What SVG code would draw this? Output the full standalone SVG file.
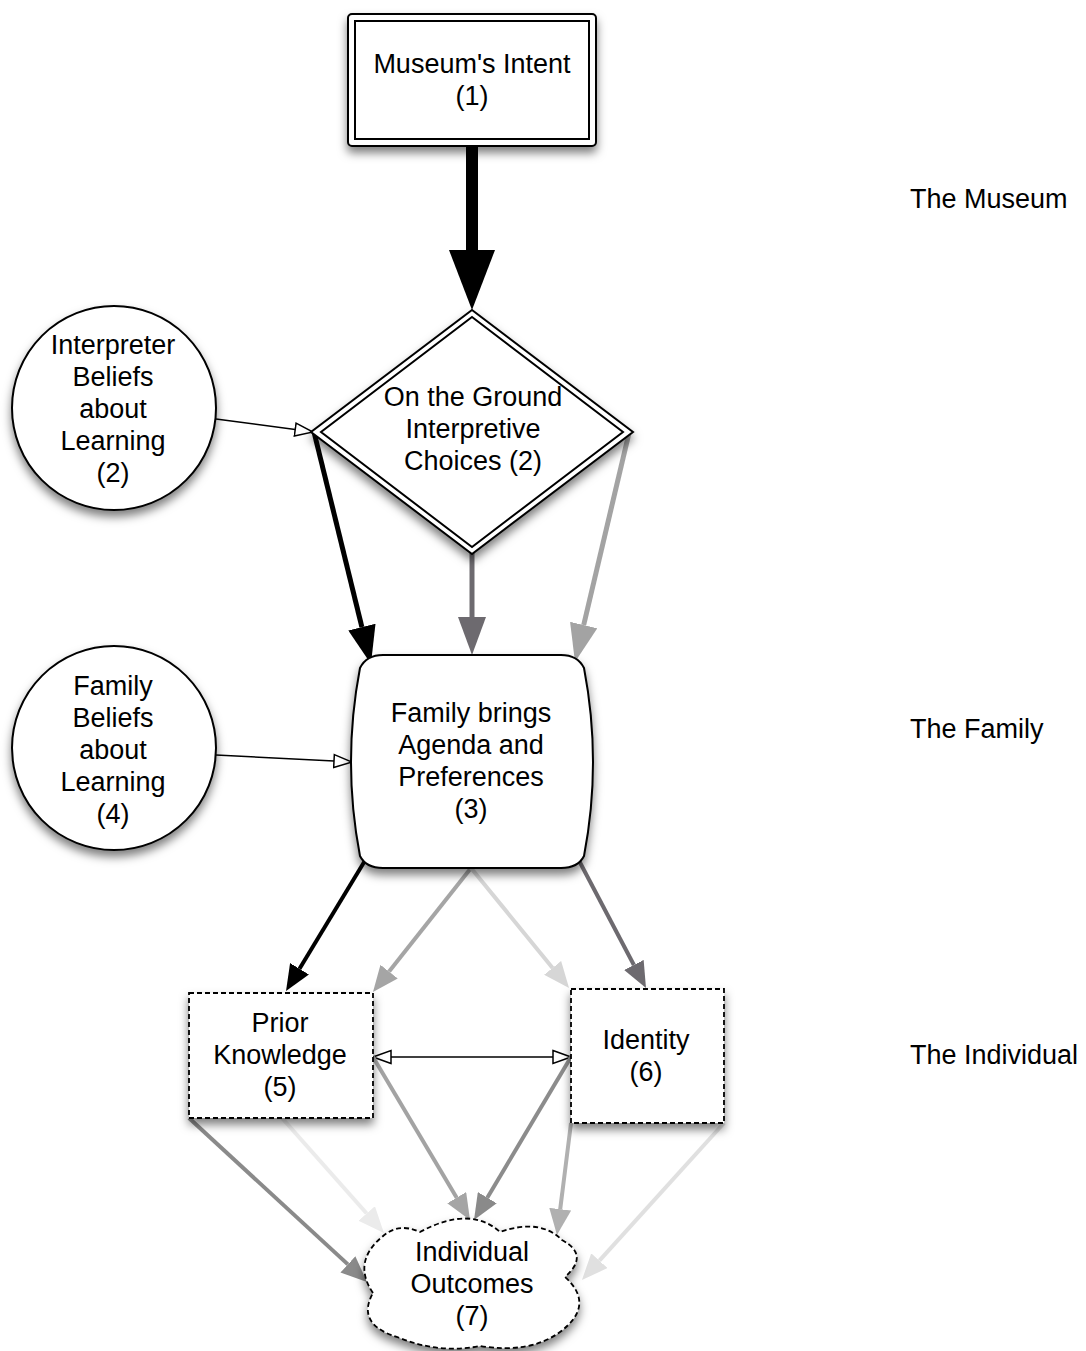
<svg xmlns="http://www.w3.org/2000/svg" width="1086" height="1351" viewBox="0 0 1086 1351">
<style>
text{font-family:"Liberation Sans",Arial,sans-serif;font-size:27px;fill:#000;text-anchor:middle}
.lab{text-anchor:start}
.shape{fill:#fff;stroke:#000;stroke-width:2}
.dash{fill:#fff;stroke:#000;stroke-width:1.8;stroke-dasharray:5 3}
.c{fill:none;stroke-linecap:butt}
</style>
<defs>
<filter id="sh" x="-20%" y="-20%" width="140%" height="150%">
<feDropShadow dx="0" dy="6" stdDeviation="5" flood-color="#000" flood-opacity="0.5"/>
</filter>
<marker id="hXL" markerUnits="userSpaceOnUse" markerWidth="60" markerHeight="46" refX="0" refY="23" orient="auto"><path d="M0,0 L60,23 L0,46 z" fill="#000"/></marker>
<marker id="bK" markerUnits="userSpaceOnUse" markerWidth="38" markerHeight="28" refX="0" refY="14" orient="auto"><path d="M0,0 L38,14 L0,28 z" fill="#000"/></marker>
<marker id="bD" markerUnits="userSpaceOnUse" markerWidth="38" markerHeight="28" refX="0" refY="14" orient="auto"><path d="M0,0 L38,14 L0,28 z" fill="#6d6a6f"/></marker>
<marker id="bG" markerUnits="userSpaceOnUse" markerWidth="38" markerHeight="28" refX="0" refY="14" orient="auto"><path d="M0,0 L38,14 L0,28 z" fill="#a3a3a3"/></marker>
<marker id="sK" markerUnits="userSpaceOnUse" markerWidth="26" markerHeight="22" refX="0" refY="11" orient="auto"><path d="M0,0 L26,11 L0,22 z" fill="#000"/></marker>
<marker id="sD" markerUnits="userSpaceOnUse" markerWidth="26" markerHeight="22" refX="0" refY="11" orient="auto"><path d="M0,0 L26,11 L0,22 z" fill="#6d6a6f"/></marker>
<marker id="sG" markerUnits="userSpaceOnUse" markerWidth="26" markerHeight="22" refX="0" refY="11" orient="auto"><path d="M0,0 L26,11 L0,22 z" fill="#a5a5a5"/></marker>
<marker id="sL" markerUnits="userSpaceOnUse" markerWidth="26" markerHeight="22" refX="0" refY="11" orient="auto"><path d="M0,0 L26,11 L0,22 z" fill="#d6d6d6"/></marker>
<marker id="sV" markerUnits="userSpaceOnUse" markerWidth="26" markerHeight="22" refX="0" refY="11" orient="auto"><path d="M0,0 L26,11 L0,22 z" fill="#ebebeb"/></marker>
<marker id="sM" markerUnits="userSpaceOnUse" markerWidth="26" markerHeight="22" refX="0" refY="11" orient="auto"><path d="M0,0 L26,11 L0,22 z" fill="#8a8a8a"/></marker>
<marker id="sB" markerUnits="userSpaceOnUse" markerWidth="26" markerHeight="22" refX="0" refY="11" orient="auto"><path d="M0,0 L26,11 L0,22 z" fill="#b0b0b0"/></marker>
<marker id="sE" markerUnits="userSpaceOnUse" markerWidth="26" markerHeight="22" refX="0" refY="11" orient="auto"><path d="M0,0 L26,11 L0,22 z" fill="#e0e0e0"/></marker>
<marker id="op" markerUnits="userSpaceOnUse" markerWidth="20" markerHeight="16" refX="1" refY="8" orient="auto-start-reverse"><path d="M1,1.5 L19,8 L1,14.5 z" fill="#fff" stroke="#000" stroke-width="1.5"/></marker>
</defs>

<g id="connectors">
<line class="c" x1="472" y1="146" x2="472" y2="250" stroke="#000" stroke-width="12" stroke-linecap="round" marker-end="url(#hXL)"/>
<line class="c" x1="314" y1="432" x2="361.9" y2="627.1" stroke="#000" stroke-width="5" marker-end="url(#bK)"/>
<line class="c" x1="472" y1="552" x2="472" y2="617" stroke="#6d6a6f" stroke-width="5" marker-end="url(#bD)"/>
<line class="c" x1="629" y1="433" x2="583.7" y2="625" stroke="#a3a3a3" stroke-width="5" marker-end="url(#bG)"/>
<line class="c" x1="216" y1="419" x2="295.2" y2="429.6" stroke="#000" stroke-width="1.5" marker-end="url(#op)"/>
<line class="c" x1="216" y1="755" x2="334" y2="761.1" stroke="#000" stroke-width="1.5" marker-end="url(#op)"/>
<line class="c" x1="369" y1="854" x2="299.5" y2="968.8" stroke="#000" stroke-width="4" marker-end="url(#sK)"/>
<line class="c" x1="471" y1="868" x2="389.1" y2="971.6" stroke="#a5a5a5" stroke-width="4" marker-end="url(#sG)"/>
<line class="c" x1="471" y1="868" x2="552.6" y2="967.9" stroke="#d6d6d6" stroke-width="4" marker-end="url(#sL)"/>
<line class="c" x1="575" y1="853" x2="633.9" y2="965" stroke="#6d6a6f" stroke-width="4" marker-end="url(#sD)"/>
<line class="c" x1="391" y1="1057" x2="553" y2="1057" stroke="#000" stroke-width="1.5" marker-start="url(#op)" marker-end="url(#op)"/>
<line class="c" x1="189" y1="1118" x2="347.9" y2="1264.4" stroke="#8a8a8a" stroke-width="4" marker-end="url(#sM)"/>
<line class="c" x1="282" y1="1118" x2="366.7" y2="1213.5" stroke="#ebebeb" stroke-width="4" marker-end="url(#sV)"/>
<line class="c" x1="373" y1="1057" x2="456.7" y2="1197.7" stroke="#a3a3a3" stroke-width="4" marker-end="url(#sG)"/>
<line class="c" x1="571" y1="1057" x2="487.3" y2="1197.7" stroke="#8c8c8c" stroke-width="4" marker-end="url(#sM)"/>
<line class="c" x1="571" y1="1123" x2="560.2" y2="1209.2" stroke="#b0b0b0" stroke-width="4" marker-end="url(#sB)"/>
<line class="c" x1="724" y1="1123" x2="599.4" y2="1260.7" stroke="#e0e0e0" stroke-width="4" marker-end="url(#sE)"/>
</g>

<g id="node-museum-intent">
<rect x="348" y="14" width="248" height="132" rx="4" class="shape" filter="url(#sh)"/>
<rect x="355" y="21" width="234" height="118" class="shape" stroke-width="2.5"/>
<text x="472" y="73">Museum's Intent</text>
<text x="472" y="105">(1)</text>
</g>

<g id="node-interpretive-choices">
<polygon points="472,310 633,432 472,554 311,432" class="shape" stroke-width="2.5" filter="url(#sh)"/>
<polygon points="472,317 623,432 472,547 321,432" class="shape"/>
<text x="473" y="406">On the Ground</text>
<text x="473" y="438">Interpretive</text>
<text x="473" y="470">Choices (2)</text>
</g>

<g id="node-interpreter-beliefs">
<circle cx="114" cy="408" r="102" class="shape" filter="url(#sh)"/>
<text x="113" y="354">Interpreter</text>
<text x="113" y="386">Beliefs</text>
<text x="113" y="418">about</text>
<text x="113" y="450">Learning</text>
<text x="113" y="482">(2)</text>
</g>

<g id="node-family-beliefs">
<circle cx="114" cy="748" r="102" class="shape" filter="url(#sh)"/>
<text x="113" y="695">Family</text>
<text x="113" y="727">Beliefs</text>
<text x="113" y="759">about</text>
<text x="113" y="791">Learning</text>
<text x="113" y="823">(4)</text>
</g>

<g id="node-family-agenda">
<path d="M383,655 L561,655 C573,655 580,660 584,668 Q602,762 584,856 C580,864 573,868 561,868 L383,868 C371,868 364,864 360,856 Q342,762 360,668 C364,660 371,655 383,655 Z" class="shape" filter="url(#sh)"/>
<text x="471" y="722">Family brings</text>
<text x="471" y="754">Agenda and</text>
<text x="471" y="786">Preferences</text>
<text x="471" y="818">(3)</text>
</g>

<g id="node-prior-knowledge">
<rect x="189" y="993" width="184" height="125" class="dash" filter="url(#sh)"/>
<text x="280" y="1032">Prior</text>
<text x="280" y="1064">Knowledge</text>
<text x="280" y="1096">(5)</text>
</g>

<g id="node-identity">
<rect x="571" y="989" width="153" height="134" class="dash" filter="url(#sh)"/>
<text x="646" y="1049">Identity</text>
<text x="646" y="1081">(6)</text>
</g>

<g id="node-outcomes">
<path d="M373,1293 Q352,1262 382,1237 Q398,1222 420,1232 Q470,1205 500,1232 Q540,1218 562,1240 Q590,1255 565,1277 Q596,1305 560,1332 Q530,1354 480,1346 Q440,1354 400,1338 Q355,1325 373,1293 Z" class="dash" filter="url(#sh)"/>
<text x="472" y="1261">Individual</text>
<text x="472" y="1293">Outcomes</text>
<text x="472" y="1325">(7)</text>
</g>

<g id="labels">
<text class="lab" x="910" y="208">The Museum</text>
<text class="lab" x="910" y="738">The Family</text>
<text class="lab" x="910" y="1064">The Individual</text>
</g>
</svg>
